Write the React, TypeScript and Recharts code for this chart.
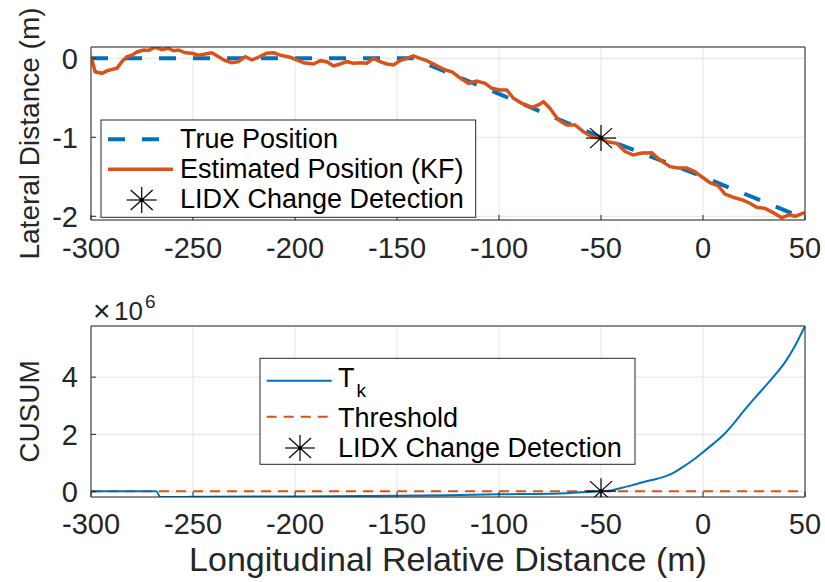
import React from 'react';
import { ComposedChart, Line, Scatter, XAxis, YAxis, CartesianGrid } from 'recharts';

// ---------- data ----------
const xTicks = [-300, -250, -200, -150, -100, -50, 0, 50];
const latTicks = [-2, -1, 0];
const cusumTicks = [0, 2e6, 4e6];

const trueX = [-300, -142, -100, -50, 0, 50];
const trueY = [0, 0, -0.45, -1.0, -1.5, -2.03];

const estX = [
  -300, -298, -294.6, -292, -289.7, -287.3, -284.8, -282.4, -280, -277.5, -274.2, -271.8, -268.5, -265.2,
  -262, -259.5, -257.1, -253.8, -250.5, -247.3, -244, -240.7, -237.5, -234.2, -230.9, -227.7, -224.4,
  -221.1, -217.9, -214, -210.5, -207.3, -202.4, -199.1, -195.8, -190.9, -187.6, -184.4, -181.1, -177.9,
  -174.6, -171.3, -168.1, -164.8, -161.5, -158.3, -155, -151.7, -148.5, -145.2, -142, -138.7, -135.4,
  -130.5, -127, -123.1, -119.9, -115, -110.9, -106.8, -103.5, -99.5, -96.2, -92.9, -88.8, -83.9, -80.7,
  -78.2, -75, -70.9, -66.8, -62.7, -58.7, -54.6, -50.5, -46.4, -42.3, -38.2, -34.2, -30, -25.1, -21.1,
  -16.2, -12.1, -8, -3.9, -0.6, 3.4, 7.5, 10.8, 14.9, 19, 23, 26.3, 30.4, 34.4, 38.6, 42.6, 45.1, 49.1, 50,
];
const estY = [
  0.03, -0.17, -0.19, -0.157, -0.14, -0.127, -0.04, 0.02, 0.04, 0.08, 0.105, 0.1, 0.14, 0.11,
  0.126, 0.096, 0.105, 0.07, 0.063, 0.04, 0.054, 0.07, 0.02, -0.03, -0.056, -0.043, 0.02,
  -0.02, 0.013, 0.063, 0.07, 0.04, 0.013, -0.02, -0.056, -0.072, -0.03, -0.043, -0.097, -0.072,
  -0.043, -0.063, -0.056, -0.063, 0, -0.043, -0.072, -0.085, -0.03, 0, 0.03, 0, -0.03,
  -0.094, -0.14, -0.17, -0.233, -0.316, -0.287, -0.316, -0.38, -0.4, -0.4, -0.506, -0.57, -0.625, -0.59,
  -0.549, -0.633, -0.78, -0.844, -0.844, -0.929, -0.992, -1.013, -1.06, -1.076, -1.18, -1.224, -1.2, -1.195, -1.287,
  -1.372, -1.39, -1.39, -1.435, -1.5, -1.575, -1.616, -1.718, -1.76, -1.79, -1.835, -1.886, -1.9, -1.954, -2.018, -1.98, -2.0, -1.96, -1.95,
];

const detectX = [-50];
const detectLatY = [-1.01];
const detectCusumY = [0.02e6];

const tkX = [-300, -268, -266, -250, -200, -150, -125, -100, -75, -60, -50, -45, -40, -35, -30, -25, -20, -15, -10, -5, 0, 5, 10, 15, 20, 25, 30, 35, 40, 45, 50];
const tkY = [0.02e6, 0.02e6, -0.184e6, -0.18e6, -0.165e6, -0.14e6, -0.12e6, -0.09e6, -0.07e6, -0.02e6, 0.02e6, 0.045e6, 0.13e6, 0.22e6, 0.32e6, 0.41e6, 0.5e6, 0.64e6, 0.86e6, 1.1e6, 1.38e6, 1.67e6, 1.98e6, 2.38e6, 2.82e6, 3.24e6, 3.64e6, 4.05e6, 4.5e6, 5.08e6, 5.785e6];

const thresholdX = [-300, 50];
const thresholdY = [0.02e6, 0.02e6];

// ---------- build tables ----------
const zip = (xs: number[], ys: number[]) => xs.map((x, i) => ({ x, y: ys[i] }));
const trueData = zip(trueX, trueY);
const estData = zip(estX, estY);
const detectLat = zip(detectX, detectLatY);
const detectCusum = zip(detectX, detectCusumY);
const tkData = zip(tkX, tkY);
const thrData = zip(thresholdX, thresholdY);

// ---------- style ----------
const FONT = '"Liberation Sans", Arial, Helvetica, sans-serif';
const INK = '#262626';
const BLUE = '#0072BD';
const ORANGE = '#D95319';
const GRID = '#e3e3e3';
const tickStyle = { fontSize: 29, fill: INK, fontFamily: FONT };

const StarShape = (p: any) => {
  const { cx, cy } = p;
  if (cx == null || cy == null) return null;
  return (
    <g stroke="#000" strokeWidth={1.2}>
      <line x1={cx - 15} y1={cy} x2={cx + 15} y2={cy} />
      <line x1={cx} y1={cy - 13} x2={cx} y2={cy + 13} />
      <line x1={cx - 11} y1={cy - 10} x2={cx + 11} y2={cy + 10} />
      <line x1={cx - 11} y1={cy + 10} x2={cx + 11} y2={cy - 10} />
      <circle cx={cx} cy={cy} r={1.5} fill="#000" />
    </g>
  );
};

const YLabel = (props: any) => {
  const vb = props.viewBox || {};
  const cy = (vb.y ?? 0) + (vb.height ?? 0) / 2;
  const bx = props.bx;
  return (
    <text
      x={bx}
      y={cy}
      transform={`rotate(-90 ${bx} ${cy})`}
      textAnchor="middle"
      fontSize={28}
      fill={INK}
      fontFamily={FONT}
    >
      {props.text}
    </text>
  );
};

const XLabel = (props: any) => {
  const vb = props.viewBox || {};
  const cx = (vb.x ?? 0) + (vb.width ?? 0) / 2;
  const y = (vb.y ?? 0) + props.dy;
  return (
    <text x={cx} y={y} textAnchor="middle" fontSize={34} fill={INK} fontFamily={FONT}>
      {props.text}
    </text>
  );
};

const W = 825;

export default function App() {
  return (
    <div style={{ position: 'absolute', left: 0, top: 0, width: W, height: 582, background: '#fff' }}>
      {/* ---------- top subplot ---------- */}
      <div style={{ position: 'absolute', left: 0, top: 0 }}>
        <ComposedChart width={W} height={270} margin={{ top: 46, right: 19, bottom: 0, left: 0 }}>
          <CartesianGrid stroke={GRID} strokeWidth={1} />
          <XAxis
            dataKey="x"
            type="number"
            domain={[-300, 50]}
            ticks={xTicks}
            allowDataOverflow
            height={50}
            tick={tickStyle}
            tickSize={-5}
            tickMargin={22}
            stroke={INK}
            interval={0}
          />
          <XAxis
            xAxisId="top"
            orientation="top"
            type="number"
            domain={[-300, 50]}
            ticks={xTicks}
            height={1}
            tick={false}
            tickSize={-5}
            stroke={INK}
          />
          <YAxis
            type="number"
            domain={[-2.047, 0.143]}
            ticks={latTicks}
            allowDataOverflow
            width={91}
            tick={tickStyle}
            tickSize={-5}
            tickMargin={18}
            stroke={INK}
            interval={0}
            label={<YLabel text="Lateral Distance (m)" bx={39} />}
          />
          <YAxis
            yAxisId="right"
            orientation="right"
            type="number"
            domain={[-2.047, 0.143]}
            ticks={latTicks}
            width={1}
            tick={false}
            tickSize={-5}
            stroke={INK}
          />
          <Line data={trueData} dataKey="y" type="linear" stroke={BLUE} strokeWidth={4} strokeDasharray="17 17" dot={false} isAnimationActive={false} />
          <Line data={estData} dataKey="y" type="linear" stroke={ORANGE} strokeWidth={3.5} dot={false} isAnimationActive={false} />
          <Scatter data={detectLat} dataKey="y" shape={(p: any) => <StarShape {...p} />} isAnimationActive={false} />
        </ComposedChart>
      </div>

      {/* ---------- bottom subplot ---------- */}
      <div style={{ position: 'absolute', left: 0, top: 270 }}>
        <ComposedChart width={W} height={312} margin={{ top: 55, right: 19, bottom: 0, left: 0 }}>
          <CartesianGrid stroke={GRID} strokeWidth={1} />
          <XAxis
            dataKey="x"
            type="number"
            domain={[-300, 50]}
            ticks={xTicks}
            allowDataOverflow
            height={85}
            tick={tickStyle}
            tickSize={-5}
            tickMargin={21}
            stroke={INK}
            interval={0}
            label={<XLabel text="Longitudinal Relative Distance (m)" dy={74} />}
          />
          <XAxis
            xAxisId="top"
            orientation="top"
            type="number"
            domain={[-300, 50]}
            ticks={xTicks}
            height={1}
            tick={false}
            tickSize={-5}
            stroke={INK}
          />
          <YAxis
            type="number"
            domain={[-0.185e6, 5.785e6]}
            ticks={cusumTicks}
            allowDataOverflow
            width={91}
            tick={tickStyle}
            tickFormatter={(v: number) => String(Math.round(v / 1e6))}
            tickSize={-5}
            tickMargin={18}
            stroke={INK}
            interval={0}
            label={<YLabel text="CUSUM" bx={39} />}
          />
          <YAxis
            yAxisId="right"
            orientation="right"
            type="number"
            domain={[-0.185e6, 5.785e6]}
            ticks={cusumTicks}
            width={1}
            tick={false}
            tickSize={-5}
            stroke={INK}
          />
          <Line data={thrData} dataKey="y" type="linear" stroke={ORANGE} strokeWidth={2} strokeDasharray="10 7" dot={false} isAnimationActive={false} />
          <Line data={tkData} dataKey="y" type="monotone" stroke={BLUE} strokeWidth={2} dot={false} isAnimationActive={false} />
          <Scatter data={detectCusum} dataKey="y" shape={(p: any) => <StarShape {...p} />} isAnimationActive={false} />
        </ComposedChart>
      </div>

      {/* ---------- legends & exponent ---------- */}
      <svg
        width={W}
        height={582}
        style={{ position: 'absolute', left: 0, top: 0, pointerEvents: 'none' }}
        fontFamily={FONT}
      >
        {/* top legend */}
        <rect x={101} y={120} width={374.7} height={97.3} fill="#fff" stroke={INK} strokeWidth={1} />
        <line x1={108} y1={139.3} x2={170} y2={139.3} stroke={BLUE} strokeWidth={4} strokeDasharray="17 17" />
        <text x={180} y={148.3} fontSize={27} fill="#000">True Position</text>
        <line x1={108} y1={169.3} x2={173} y2={169.3} stroke={ORANGE} strokeWidth={3.5} />
        <text x={180} y={178.3} fontSize={27} fill="#000">Estimated Position (KF)</text>
        <StarShape cx={141.7} cy={200} />
        <text x={180} y={208.3} fontSize={27} fill="#000">LIDX Change Detection</text>

        {/* bottom legend */}
        <rect x={260} y={358.3} width={375} height={106} fill="#fff" stroke={INK} strokeWidth={1} />
        <line x1={266.7} y1={380.7} x2={331.7} y2={380.7} stroke={BLUE} strokeWidth={2} />
        <text x={338} y={386.7} fontSize={27} fill="#000">
          T<tspan fontSize={19} dy={10} dx={2}>k</tspan>
        </text>
        <line x1={266.7} y1={416.7} x2={331.7} y2={416.7} stroke={ORANGE} strokeWidth={2} strokeDasharray="10 7" />
        <text x={338} y={426.7} fontSize={27} fill="#000">Threshold</text>
        <StarShape cx={300} cy={448} />
        <text x={338} y={456.7} fontSize={27} fill="#000">LIDX Change Detection</text>

        {/* exponent */}
        <text x={93} y={321} fontSize={30} fill={INK}>×</text>
        <text x={114} y={320} fontSize={26} fill={INK}>10</text>
        <text x={145} y={308} fontSize={19} fill={INK}>6</text>
      </svg>
    </div>
  );
}
